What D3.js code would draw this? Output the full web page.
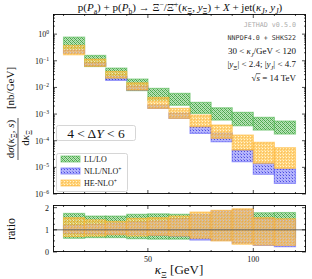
<!DOCTYPE html>
<meta charset="utf-8">
<html>
<head>
<script src="https://d3js.org/d3.v7.min.js"></script>
<style>
  body { margin: 0; background: #fff; }
  text { font-family: "Liberation Serif", "DejaVu Serif", serif; fill: #111; }
  .mono { font-family: "DejaVu Sans Mono", monospace; }
</style>
</head>
<body>
<svg id="chart" width="312" height="279"></svg>
<script>
// bins in kappa_Xi [GeV]
const binEdges = [10, 20, 30, 40, 50, 60, 70, 80, 90, 100, 110, 120];

// main panel bands, dsigma/dkappa [nb/GeV]
const llLoLow  = [0.28, 0.061, 0.0204, 0.0076, 0.0033, 0.00214, 0.00106, 0.000596, 0.000365, 0.000251, 0.000178];
const llLoHigh = [0.772, 0.159, 0.0531, 0.0206, 0.0092, 0.00598, 0.00275, 0.00172, 0.00116, 0.000753, 0.000547];
const nllLow   = [0.194, 0.0647, 0.0184, 0.0079, 0.00164, 0.00069, 0.000189, 0.0000916, 0.0000163, 0.0000055, 0.0000025];
const nllHigh  = [0.251, 0.0818, 0.026, 0.0112, 0.00218, 0.00109, 0.000334, 0.000194, 0.0000447, 0.0000142, 0.0000087];
const heLow    = [0.168, 0.0615, 0.0224, 0.00794, 0.00164, 0.00069, 0.000334, 0.000123, 0.0000447, 0.0000142, 0.0000092];
const heHigh   = [0.377, 0.1156, 0.0399, 0.0149, 0.00423, 0.00164, 0.00092, 0.000387, 0.000163, 0.0000869, 0.0000546];

// ratio panel bands
const llLoRatioLow  = [0.62, 0.65, 0.65, 0.60, 0.58, 0.58, 0.63, 0.63, 0.64, 0.64, 0.65];
const llLoRatioHigh = [1.74, 1.62, 1.62, 1.70, 1.72, 1.70, 1.68, 1.70, 1.68, 1.77, 1.78];
const nllRatioLow   = [0.85, 0.82, 0.80, 0.78, 0.75, 0.72, 0.54, 0.52, 0.40, 0.30, 0.24];
const nllRatioHigh  = [1.20, 1.25, 1.30, 1.35, 1.40, 1.50, 1.70, 1.85, 1.90, 1.50, 1.45];
const heRatioLow    = [0.70, 0.72, 0.78, 0.72, 0.75, 0.72, 0.62, 0.50, 0.35, 0.31, 0.30];
const heRatioHigh   = [1.55, 1.45, 1.38, 1.52, 1.55, 1.62, 1.80, 1.88, 1.95, 1.55, 1.50];

const yTicks = [1, 1e-1, 1e-2, 1e-3, 1e-4, 1e-5, 1e-6];
const yTickExp = ["0", "−1", "−2", "−3", "−4", "−5", "−6"];
const ratioTicks = [0, 1, 2];
const xTicks = [50, 100];

const svg = d3.select("#chart");
const L = 53, R = 306;
const mainTop = 14, mainBot = 194;
const ratTop = 205, ratBot = 252;

const x = d3.scaleLinear().domain([5, 125]).range([L, R]);
const y = d3.scaleLog().domain([1e-6, 5.7]).range([mainBot, mainTop]);
const yr = d3.scaleLinear().domain([0, 2.12]).range([ratBot, ratTop]);

// patterns
const defs = svg.append("defs");
function pixPattern(id, size, bg, pix) {
  const p = defs.append("pattern").attr("id", id).attr("patternUnits", "userSpaceOnUse")
    .attr("width", size).attr("height", size);
  p.append("rect").attr("width", size).attr("height", size).attr("fill", bg);
  pix.forEach(d => p.append("rect").attr("x", d[0]).attr("y", d[1]).attr("width", 1).attr("height", 1).attr("fill", d[2]));
}
pixPattern("pGreen", 4, "#b0e2b0", [[0,0,"#2a942a"],[1,1,"#2a942a"],[2,2,"#2a942a"],[3,3,"#2a942a"],[2,0,"#4aa84a"],[0,2,"#4aa84a"],[3,1,"#7cc47c"],[1,3,"#7cc47c"]]);
pixPattern("pBlue", 3, "#a8a8fa", [[1,1,"#2b2bd8"],[0,0,"#6b6bf0"]]);
pixPattern("pOrange", 3, "#ffbf40", [[1,1,"#fff0c8"],[0,0,"#ffd980"],[2,2,"#f5a623"]]);

const series = [
  {key: "ll", fill: "url(#pGreen)", edge: "#52b852", op: 0.85, lo: llLoLow, hi: llLoHigh, rlo: llLoRatioLow, rhi: llLoRatioHigh},
  {key: "nll", fill: "url(#pBlue)", edge: "#5555f5", op: 0.85, lo: nllLow, hi: nllHigh, rlo: nllRatioLow, rhi: nllRatioHigh},
  {key: "he", fill: "url(#pOrange)", edge: "#ffb52e", op: 0.72, lo: heLow, hi: heHigh, rlo: heRatioLow, rhi: heRatioHigh}
];

const bins = d3.range(binEdges.length - 1);

// main panel bands
series.forEach(s => {
  svg.append("g").selectAll("rect").data(bins).enter().append("rect")
    .attr("x", i => x(binEdges[i]))
    .attr("width", i => x(binEdges[i + 1]) - x(binEdges[i]))
    .attr("y", i => y(s.hi[i]))
    .attr("height", i => y(s.lo[i]) - y(s.hi[i]))
    .attr("fill", s.fill).attr("fill-opacity", s.op)
    .attr("stroke", s.edge).attr("stroke-opacity", 0.55).attr("stroke-width", 1.2);
});

// ratio panel bands
series.forEach(s => {
  svg.append("g").selectAll("rect").data(bins).enter().append("rect")
    .attr("x", i => x(binEdges[i]))
    .attr("width", i => x(binEdges[i + 1]) - x(binEdges[i]))
    .attr("y", i => yr(s.rhi[i]))
    .attr("height", i => yr(s.rlo[i]) - yr(s.rhi[i]))
    .attr("fill", s.fill).attr("fill-opacity", s.op)
    .attr("stroke", s.edge).attr("stroke-opacity", 0.55).attr("stroke-width", 1.2);
});
svg.append("line").attr("x1", L).attr("x2", R).attr("y1", yr(1)).attr("y2", yr(1))
  .attr("stroke", "#555").attr("stroke-width", 0.9);

// frames
[[mainTop, mainBot], [ratTop, ratBot]].forEach(f => {
  svg.append("rect").attr("x", L + 0.5).attr("y", f[0] + 0.5).attr("width", R - L - 1).attr("height", f[1] - f[0] - 1)
    .attr("fill", "none").attr("stroke", "#000").attr("stroke-width", 0.9);
});

// ticks
const tk = svg.append("g").attr("stroke", "#000").attr("stroke-width", 0.7);
function vtick(xx, y0, len) { tk.append("line").attr("x1", xx).attr("x2", xx).attr("y1", y0).attr("y2", y0 + len); }
function htick(yy, x0, len) { tk.append("line").attr("x1", x0).attr("x2", x0 + len).attr("y1", yy).attr("y2", yy); }
d3.range(10, 125, 10).forEach(v => {
  const len = (v % 50 === 0) ? 4 : 2;
  [mainTop, ratTop].forEach(t => vtick(x(v), t, len));
  [mainBot, ratBot].forEach(b => vtick(x(v), b, -len));
});
for (let e = -6; e <= 0; e++) {
  for (let m = 1; m <= 9; m++) {
    const v = m * Math.pow(10, e);
    if (v > 5.7) continue;
    const len = m === 1 ? 4 : 2;
    htick(y(v), L, len); htick(y(v), R, -len);
  }
}
d3.range(0, 2.01, 0.25).forEach(v => {
  const len = Number.isInteger(v) ? 4 : 2;
  htick(yr(v), L, len); htick(yr(v), R, -len);
});

// rich text helper
function rich(sel, segs, fs) {
  let shift = 0;
  segs.forEach(sg => {
    const t = sg[0], f = sg[1] || "";
    const target = f.includes("s") ? fs * 0.28 : f.includes("u") ? -fs * 0.4 : 0;
    const sp = sel.append("tspan").text(t).attr("dy", target - shift)
      .attr("font-size", (f.includes("s") || f.includes("u")) ? fs * 0.7 : fs);
    if (f.includes("i")) sp.attr("font-style", "italic");
    shift = target;
  });
  return sel;
}

// tick labels
yTicks.forEach((v, i) => {
  const t = svg.append("text").attr("x", 49).attr("y", y(v) + 3).attr("text-anchor", "end").attr("font-size", 8);
  rich(t, [["10"], [yTickExp[i], "u"]], 8);
});
ratioTicks.forEach(v => {
  svg.append("text").attr("x", 49).attr("y", yr(v) + 3).attr("text-anchor", "end").attr("font-size", 8).text(v);
});
xTicks.forEach(v => {
  svg.append("text").attr("x", x(v)).attr("y", 262).attr("text-anchor", "middle").attr("font-size", 8).text(v);
});

// title
rich(svg.append("text").attr("x", 180).attr("y", 11).attr("text-anchor", "middle"),
  [["p("], ["P", "i"], ["a", "s"], [") + p("], ["P", "i"], ["b", "s"], [") → Ξ"], ["−", "u"], ["/Ξ̄"], ["+", "u"],
   ["("], ["κ", "i"], ["Ξ", "s"], [", "], ["y", "i"], ["Ξ", "s"], [") + "], ["X", "i"], [" + jet("], ["κ", "i"], ["J", "si"],
   [", "], ["y", "i"], ["J", "si"], [")"]], 11);

// annotations
svg.append("text").attr("class", "mono").attr("x", 296).attr("y", 27).attr("text-anchor", "end")
  .attr("font-size", 6.7).style("fill", "#aaa").text("JETHAD v0.5.0");
svg.append("text").attr("class", "mono").attr("x", 296).attr("y", 39.5).attr("text-anchor", "end")
  .attr("font-size", 6.7).style("fill", "#333").text("NNPDF4.0 + SHKS22");
rich(svg.append("text").attr("x", 296).attr("y", 54).attr("text-anchor", "end"),
  [["30 < "], ["κ", "i"], ["J", "si"], ["/GeV < 120"]], 9);
rich(svg.append("text").attr("x", 296).attr("y", 67).attr("text-anchor", "end"),
  [["|"], ["y", "i"], ["Ξ", "s"], ["| < 2.4;  |"], ["y", "i"], ["J", "si"], ["| < 4.7"]], 9);
const sq = rich(svg.append("text").attr("x", 296).attr("y", 81).attr("text-anchor", "end"),
  [["√"], ["s", "i"], [" = 14 TeV"]], 9);
// overline of the square root over "s"
const sqNode = sq.node();
const x0 = sqNode.getStartPositionOfChar(1).x, x1 = sqNode.getEndPositionOfChar(1).x;
svg.append("line").attr("x1", x0 - 0.5).attr("x2", x1 + 0.5).attr("y1", 73.6).attr("y2", 73.6)
  .attr("stroke", "#111").attr("stroke-width", 0.6);

// Delta Y box
svg.append("rect").attr("x", 56.5).attr("y", 125.5).attr("width", 79).attr("height", 15).attr("rx", 2)
  .attr("fill", "#fff").attr("stroke", "#ccc").attr("stroke-width", 0.8);
rich(svg.append("text").attr("x", 96).attr("y", 137.5).attr("text-anchor", "middle"),
  [["4 < Δ"], ["Y", "i"], [" < 6"]], 13.5);

// legend
svg.append("rect").attr("x", 56.5).attr("y", 153.5).attr("width", 71).attr("height", 38).attr("rx", 2)
  .attr("fill", "#fff").attr("fill-opacity", 0.85).attr("stroke", "#ccc").attr("stroke-width", 0.8);
const legendNames = [[["LL/LO"]], [["NLL/NLO"], ["+", "u"]], [["HE-NLO"], ["+", "u"]]];
series.forEach((s, i) => {
  const yy = 159 + i * 12;
  svg.append("rect").attr("x", 61).attr("y", yy - 3).attr("width", 19).attr("height", 6)
    .attr("fill", s.fill).attr("fill-opacity", s.op)
    .attr("stroke", s.edge).attr("stroke-opacity", 0.6).attr("stroke-width", 1);
  rich(svg.append("text").attr("x", 84).attr("y", yy + 3), legendNames[i], 8);
});

// axis labels
const yl = svg.append("g").attr("transform", "translate(18,110) rotate(-90)");
rich(yl.append("text").attr("x", -29).attr("y", -4).attr("text-anchor", "middle"),
  [["d"], ["σ", "i"], ["("], ["κ", "i"], ["Ξ", "s"], [", "], ["s", "i"], [")"]], 11);
yl.append("line").attr("x1", -50).attr("x2", -8).attr("y1", 0).attr("y2", 0).attr("stroke", "#111").attr("stroke-width", 0.7);
rich(yl.append("text").attr("x", -28).attr("y", 11).attr("text-anchor", "middle"),
  [["d"], ["κ", "i"], ["Ξ", "s"]], 11);
yl.append("text").attr("x", 22).attr("y", -4).attr("text-anchor", "middle").attr("font-size", 11).text("[nb/GeV]");

svg.append("text").attr("transform", "translate(15,229) rotate(-90)").attr("text-anchor", "middle")
  .attr("font-size", 12).text("ratio");

rich(svg.append("text").attr("x", 179).attr("y", 274).attr("text-anchor", "middle"),
  [["κ", "i"], ["Ξ", "s"], [" [GeV]"]], 13);
</script>
</body>
</html>
